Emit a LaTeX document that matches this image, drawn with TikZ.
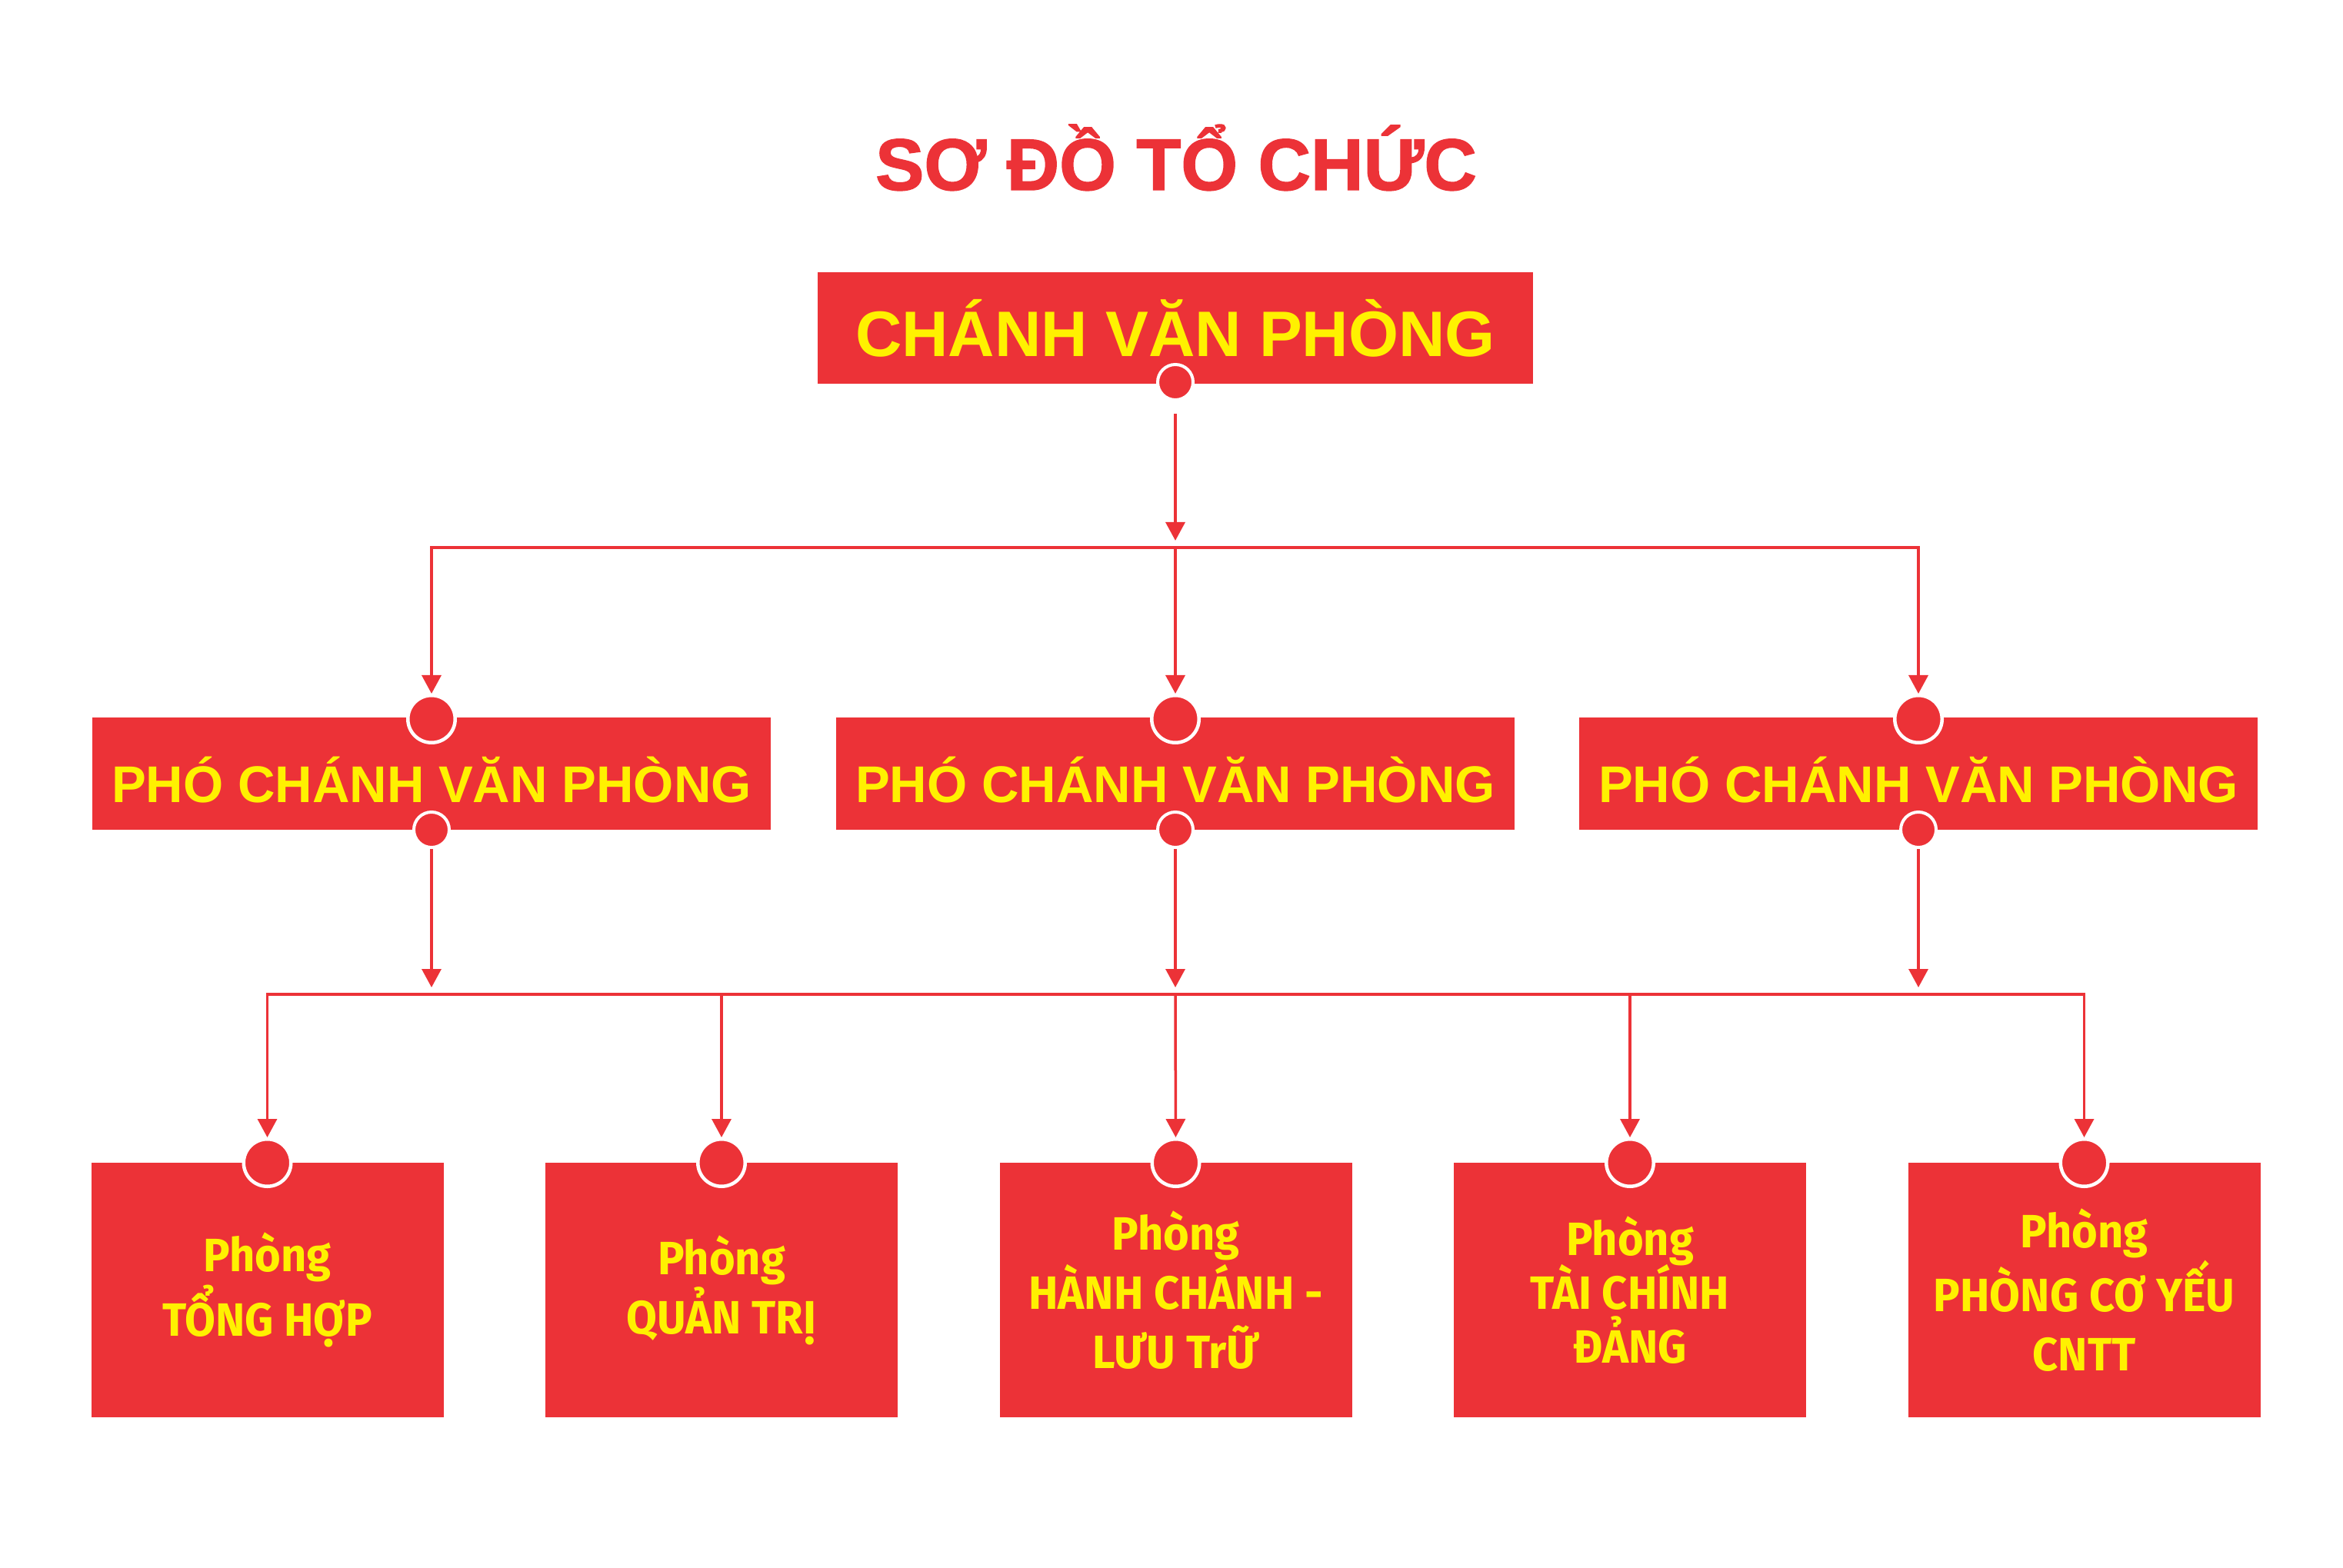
\documentclass[tikz,border=0pt]{standalone}
\usepackage{fontspec}
\usetikzlibrary{arrows.meta}
\setmainfont{Liberation Sans}
\newfontfamily\titlefont[FakeBold=1.5]{Liberation Sans}
\newfontfamily\deptfont[FakeStretch=0.95]{Fira Sans}
\definecolor{orgred}{HTML}{EC3237}
\definecolor{orgyellow}{HTML}{FFF100}

\begin{document}
\begin{tikzpicture}[
  heading/.style={text=orgred, inner sep=0pt, font=\titlefont\bfseries\fontsize{27}{32}\selectfont},
  chief/.style={rectangle, fill=orgred, text=orgyellow, inner sep=0pt, text height=0.74cm, text depth=0pt, minimum width=9.30cm, minimum height=1.45cm, font=\bfseries\fontsize{23.8}{28}\selectfont},
  deputy/.style={rectangle, fill=orgred, text=orgyellow, inner sep=0pt, text height=0.74cm, text depth=0pt, minimum width=8.82cm, minimum height=1.46cm, font=\bfseries\fontsize{19.1}{23}\selectfont},
  dept/.style={rectangle, fill=orgred, text=orgyellow, inner sep=0pt, align=center, minimum width=4.58cm, minimum height=3.31cm, font=\deptfont\bfseries\fontsize{17.3}{21.9}\selectfont},
  bigdot/.style={circle, fill=orgred, draw=white, line width=0.045cm, minimum size=0.615cm, inner sep=0pt},
  smalldot/.style={circle, fill=orgred, draw=white, line width=0.04cm, minimum size=0.46cm, inner sep=0pt},
  link/.style={draw=orgred, line width=0.035cm},
  flow/.style={link, -{Triangle[width=0.25cm,length=0.24cm]}}
]
\fill[white] (0,0) rectangle (30.46,-20.39);

\node[heading, anchor=base] at (15.29,-2.47) (title) {SƠ ĐỒ TỔ CHỨC};

\node[chief] at (15.28,-4.27) (alpha) {CHÁNH VĂN PHÒNG};
\node[deputy] at (5.61,-10.06) (beta) {PHÓ CHÁNH VĂN PHÒNG};
\node[deputy] at (15.28,-10.06) (gamma) {PHÓ CHÁNH VĂN PHÒNG};
\node[deputy] at (24.94,-10.06) (delta) {PHÓ CHÁNH VĂN PHÒNG};
\node[dept] at (3.475,-16.775) (epsilon) {Phòng\\TỔNG HỢP};
\node[dept] at (9.38,-16.775) (zeta) {Phòng\\QUẢN TRỊ};
\node[dept] at (15.285,-16.775) (eta) {Phòng\\HÀNH CHÁNH -\\LƯU TrỮ};
\node[dept] at (21.19,-16.775) (theta) {Phòng\\[-2pt]TÀI CHÍNH\\[-2pt]ĐẢNG};
\node[dept] at (27.095,-16.775) (iota) {Phòng\\PHÒNG CƠ YẾU\\CNTT};

\node[smalldot] at (15.28,-4.97) (alphab) {};
\node[bigdot] at (5.61,-9.35) (betat) {};
\node[smalldot] at (5.61,-10.79) (betab) {};
\node[bigdot] at (15.28,-9.35) (gammat) {};
\node[smalldot] at (15.28,-10.79) (gammab) {};
\node[bigdot] at (24.94,-9.35) (deltat) {};
\node[smalldot] at (24.94,-10.79) (deltab) {};
\node[bigdot] at (3.475,-15.12) (epsilont) {};
\node[bigdot] at (9.38,-15.12) (zetat) {};
\node[bigdot] at (15.285,-15.12) (etat) {};
\node[bigdot] at (21.19,-15.12) (thetat) {};
\node[bigdot] at (27.095,-15.12) (iotat) {};

\coordinate (upbus) at (15.28,-7.12);
\coordinate (lowbus) at (15.28,-12.93);

\draw[flow, shorten <=0.16cm, shorten >=0.09cm] (alphab) -- (upbus);
\draw[flow] (upbus) -| (betat);
\draw[flow] (upbus) -- (gammat);
\draw[flow] (upbus) -| (deltat);

\draw[flow, shorten >=0.09cm] (betab) -- (betab |- lowbus);
\draw[flow, shorten >=0.09cm] (gammab) -- (lowbus);
\draw[flow, shorten >=0.09cm] (deltab) -- (deltab |- lowbus);
\draw[flow] (lowbus) -| (epsilont);
\draw[flow] (lowbus) -| (zetat);
\draw[flow] (lowbus) -- (etat);
\draw[flow] (lowbus) -| (thetat);
\draw[flow] (lowbus) -| (iotat);

\end{tikzpicture}
\end{document}
